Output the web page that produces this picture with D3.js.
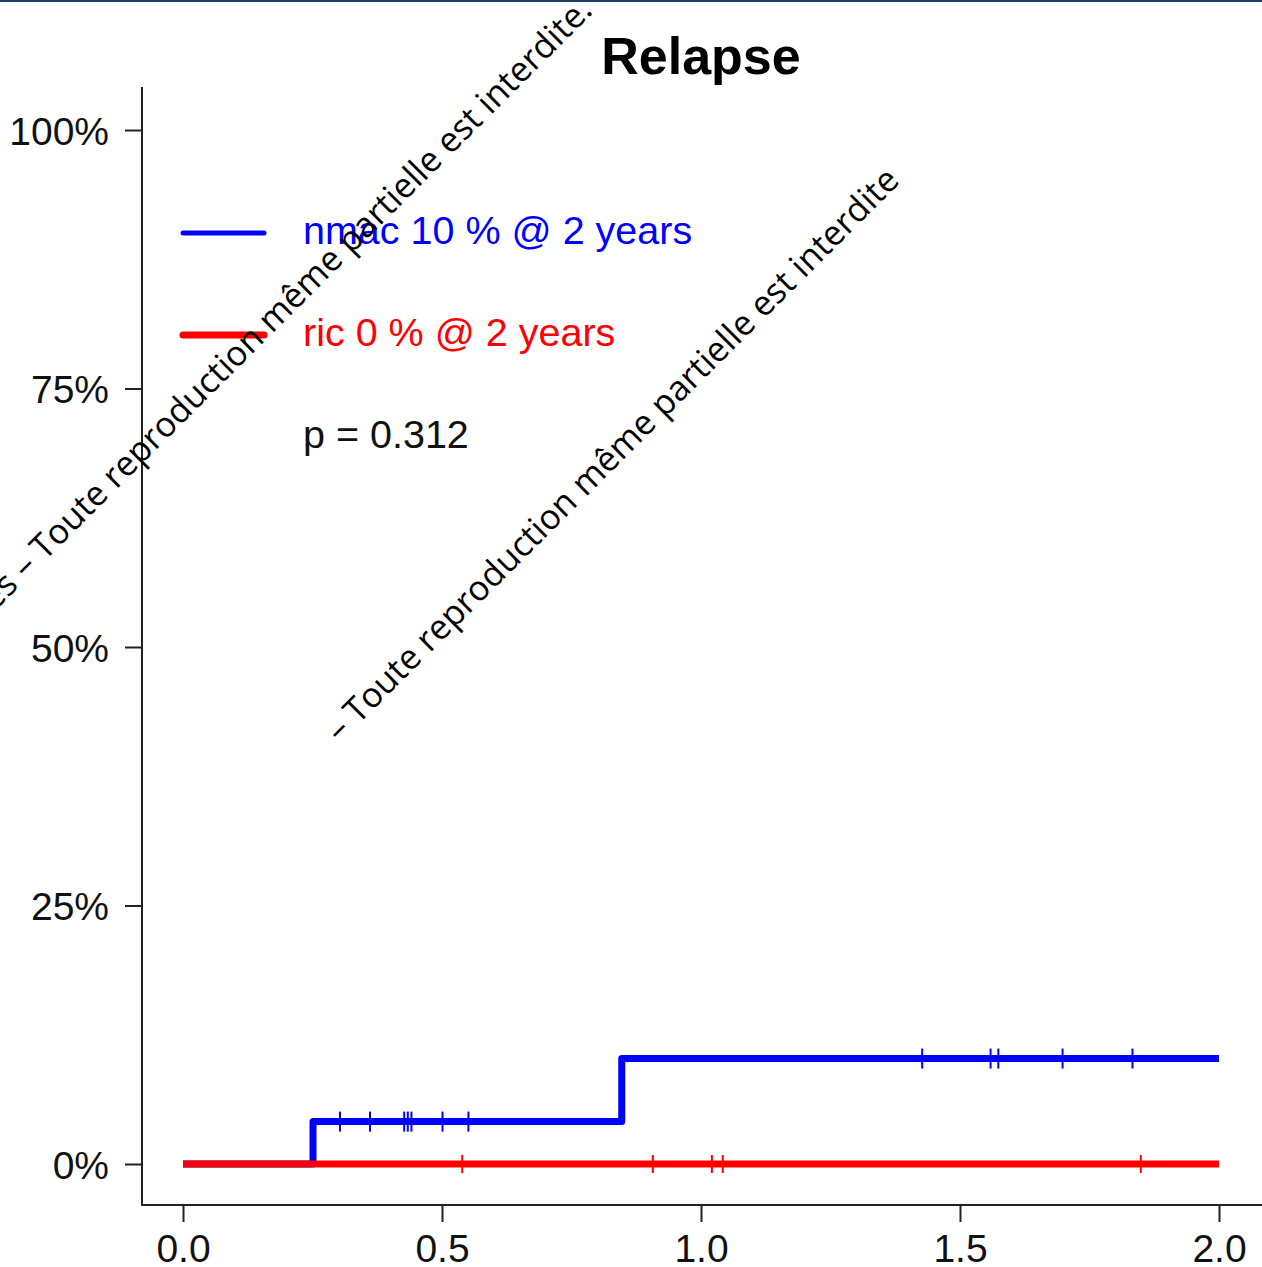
<!DOCTYPE html>
<html>
<head>
<meta charset="utf-8">
<script src="https://cdn.jsdelivr.net/npm/d3@7"></script>
<style>
  body { margin: 0; background: #fff; }
  svg { display: block; }
  .tick text { font-family: "Liberation Sans", Arial, sans-serif; fill: #111; }
</style>
</head>
<body>
<svg id="chart" width="1262" height="1267"></svg>
<script>
// data
const nmac_times = [0, 0.251, 0.847, 2.0];
const nmac_values = [0, 0.041, 0.102, 0.102];
const nmac_censored = [0.303, 0.361, 0.427, 0.434, 0.441, 0.501, 0.551, 1.427, 1.559, 1.574, 1.698, 1.833];

const ric_times = [0, 2.0];
const ric_values = [0, 0];
const ric_censored = [0.539, 0.907, 1.021, 1.042, 1.849];

const x_ticks = [0, 0.5, 1.0, 1.5, 2.0];
const y_ticks = [0, 0.25, 0.5, 0.75, 1.0];

const legend_labels = ['nmac 10 % @ 2 years', 'ric 0 % @ 2 years'];
const legend_colors = ['#0000ff', '#ff0000'];
const p_label = 'p = 0.312';

const svg = d3.select('#chart');

const x = d3.scaleLinear().domain([0, 2]).range([183, 1219]);
const y = d3.scaleLinear().domain([0, 1]).range([1164, 130]);

// top border line
svg.append('rect').attr('x', 0).attr('y', 0).attr('width', 1262).attr('height', 2).attr('fill', '#1f3d6b');

// frame (L shape)
svg.append('path')
    .attr('d', 'M142,87 V1205 H1262')
    .attr('fill', 'none')
    .attr('stroke', '#222')
    .attr('stroke-width', 2);

// axes
const ya = svg.append('g').attr('transform', 'translate(142,0)')
    .call(d3.axisLeft(y).tickValues(y_ticks).tickFormat(d3.format('.0%')).tickSize(17).tickPadding(16));
ya.select('.domain').remove();
ya.selectAll('.tick line').attr('stroke', '#222').attr('stroke-width', 2);
ya.selectAll('.tick text').style('font-size', '39px').attr('dy', '0.36em');

const xa = svg.append('g').attr('transform', 'translate(0,1205)')
    .call(d3.axisBottom(x).tickValues(x_ticks).tickFormat(d3.format('.1f')).tickSize(17).tickPadding(12));
xa.select('.domain').remove();
xa.selectAll('.tick line').attr('stroke', '#222').attr('stroke-width', 2);
xa.selectAll('.tick text').style('font-size', '39px').attr('dy', '0.71em');

// title
svg.append('text')
    .attr('x', 701).attr('y', 74)
    .attr('text-anchor', 'middle')
    .style('font-family', '"Liberation Sans", Arial, sans-serif')
    .style('font-weight', 'bold')
    .style('font-size', '52px')
    .text('Relapse');

function step_value(times, values, t) {
    let v = values[0];
    for (let i = 0; i < times.length; i++) {
        if (times[i] <= t) v = values[i];
    }
    return v;
}

function draw_curve(times, values, censored, color, width, mark_half) {
    const pts = times.map((t, i) => ({t: t, v: values[i]}));
    const line = d3.line().x(d => x(d.t)).y(d => y(d.v)).curve(d3.curveStepAfter);
    svg.append('path')
        .datum(pts)
        .attr('fill', 'none')
        .attr('stroke', color)
        .attr('stroke-width', width)
        .attr('stroke-linejoin', 'round')
        .attr('stroke-linecap', 'butt')
        .attr('d', line);
    svg.append('g').selectAll('line')
        .data(censored)
        .join('line')
        .attr('x1', d => x(d)).attr('x2', d => x(d))
        .attr('y1', d => y(step_value(times, values, d)) - mark_half)
        .attr('y2', d => y(step_value(times, values, d)) + mark_half)
        .attr('stroke', color)
        .attr('stroke-width', 2);
}

draw_curve(nmac_times, nmac_values, nmac_censored, '#0000ff', 7, 10);
draw_curve(ric_times, ric_values, ric_censored, '#ff0000', 7, 9);

// legend
const lg = svg.append('g');
legend_labels.forEach((lab, i) => {
    const ly = 233 + i * 102;
    lg.append('line')
        .attr('x1', 183).attr('x2', 264)
        .attr('y1', ly).attr('y2', ly)
        .attr('stroke', legend_colors[i])
        .attr('stroke-width', i === 0 ? 5 : 7)
        .attr('stroke-linecap', 'round');
    lg.append('text')
        .attr('x', 303).attr('y', ly + 11)
        .style('font-family', '"Liberation Sans", Arial, sans-serif')
        .style('font-size', '39.5px')
        .attr('fill', legend_colors[i])
        .text(lab);
});
lg.append('text')
    .attr('x', 303).attr('y', 448)
    .style('font-family', '"Liberation Sans", Arial, sans-serif')
    .style('font-size', '39.5px')
    .attr('fill', '#111')
    .text(p_label);

// watermark
const wm = [
    {text: 'Tous droits réservés – Toute reproduction même partielle est interdite.', x: 594, y: 12},
    {text: '– Toute reproduction même partielle est interdite', x: 901, y: 182}
];
svg.append('g').selectAll('text')
    .data(wm)
    .join('text')
    .attr('transform', d => 'translate(' + d.x + ',' + d.y + ') rotate(-45)')
    .attr('text-anchor', 'end')
    .style('font-family', '"Open Sans", "DejaVu Sans", sans-serif')
    .style('font-size', '34.5px')
    .attr('fill', '#000')
    .text(d => d.text);
</script>
</body>
</html>
